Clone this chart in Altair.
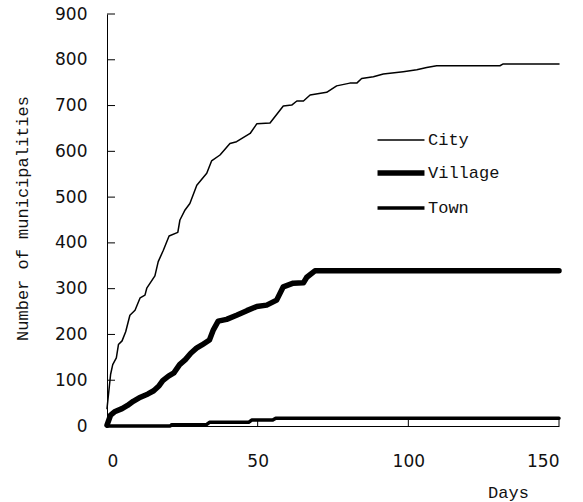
import altair as alt
import pandas as pd

# ---- data ----
series_names = ["City", "Village", "Town"]
stroke_widths = [1.5, 5.5, 3.5]

city_days = [0, 1.2, 1.9, 3.1, 3.8, 5, 6.2, 7.6, 9.3, 11, 12.6, 13.2, 15.9, 17, 18.7,
             20.6, 23.5, 24.2, 25.9, 27.5, 29.8, 33.1, 34.7, 37.5, 40.8, 43, 47.5,
             49.7, 54.1, 58.5, 61.3, 63, 65.2, 67.4, 72.9, 76.2, 80.6, 82.9, 84.5,
             88.4, 91.7, 98.3, 102.8, 106.1, 109.4, 130.4, 131.5, 150]
city_values = [38, 113, 134, 149, 178, 186, 206, 242, 253, 280, 286, 301, 328, 359, 384,
               415, 423, 450, 472, 486, 526, 552, 579, 592, 617, 621, 639,
               660, 662, 699, 701, 710, 710, 723, 729, 743, 749, 749, 759,
               763, 769, 774, 778, 783, 787, 787, 791, 791]

village_days = [0, 1.2, 2.5, 5, 6.8, 8.7, 11.1, 13.6, 15.5, 17.3, 18.5, 20.4, 22.2, 24.1,
                26, 27.8, 29.7, 31.5, 34, 35.3, 36.9, 39.7, 43, 46.4, 49.7, 53, 56.3,
                58.5, 61.8, 65.2, 66.3, 69, 150]
village_values = [2, 24, 31, 38, 45, 54, 63, 70, 77, 88, 99, 109, 116, 134,
                  145, 159, 170, 177, 188, 210, 229, 233, 242, 252, 261, 264, 275,
                  304, 312, 313, 325, 339, 339]

town_days = [0, 21, 21.5, 33, 34, 47, 48, 55, 56, 150]
town_values = [0, 0, 3, 3, 8, 8, 13, 13, 17, 17]

x_ticks = [0, 50, 100, 150]
y_ticks = [0, 100, 200, 300, 400, 500, 600, 700, 800, 900]
x_inner_ticks = [50, 100, 150]

rows = []
for name, ds, vs in [("City", city_days, city_values),
                     ("Village", village_days, village_values),
                     ("Town", town_days, town_values)]:
    for d, v in zip(ds, vs):
        rows.append({"series": name, "day": d, "value": v})
df = pd.DataFrame(rows)

W, H = 452, 412
x_scale = alt.Scale(domain=[0, 150], nice=False, zero=False)
y_scale = alt.Scale(domain=[0, 900], nice=False)

TITLE_FONT = "Liberation Mono"
LABEL_FONT = "DejaVu Sans"

x_axis = alt.Axis(values=x_ticks, title="Days", ticks=False, labelPadding=27,
                  labelFont=LABEL_FONT, labelFontSize=17, labelColor="#111",
                  titleFont=TITLE_FONT, titleFontSize=17, titleFontWeight="normal",
                  titleColor="#111", titleX=401, titleY=66, titleBaseline="middle",
                  titleAlign="center", grid=False, domainColor="black")
y_axis = alt.Axis(values=y_ticks, title="Number of municipalities", ticks=False,
                  labelPadding=20, labelFont=LABEL_FONT, labelFontSize=17,
                  labelColor="#111", titleFont=TITLE_FONT, titleFontSize=17,
                  titleFontWeight="normal", titleColor="#111", titleAngle=270,
                  titleX=-85, titleY=204, titleBaseline="middle", titleAlign="center",
                  grid=False, domainColor="black")

y_tick_layer = alt.Chart(pd.DataFrame({"value": y_ticks})).mark_rule(
    color="black", strokeWidth=1
).encode(
    y=alt.Y("value:Q", scale=y_scale, axis=y_axis),
    x=alt.value(0), x2=alt.value(8),
)

x_tick_layer = alt.Chart(pd.DataFrame({"day": x_inner_ticks})).mark_rule(
    color="black", strokeWidth=1
).encode(
    x=alt.X("day:Q", scale=x_scale, axis=x_axis),
    y=alt.value(H), y2=alt.value(H - 7),
)

lines = alt.Chart(df).mark_line(
    color="black", strokeCap="round", strokeJoin="round"
).encode(
    x=alt.X("day:Q", scale=x_scale, axis=x_axis),
    y=alt.Y("value:Q", scale=y_scale, axis=y_axis),
    strokeWidth=alt.StrokeWidth(
        "series:N",
        scale=alt.Scale(type="ordinal", domain=series_names, range=stroke_widths),
        legend=alt.Legend(
            title=None, orient="none", legendX=283, legendY=117,
            symbolType="M-3,0H3", symbolSize=245, symbolStrokeColor="black",
            symbolFillColor="transparent",
            labelFont=TITLE_FONT, labelFontSize=17, labelColor="#111",
            labelOffset=16, rowPadding=14, padding=0,
        ),
    ),
)

chart = alt.layer(y_tick_layer, x_tick_layer, lines).properties(
    width=W, height=H,
    autosize=alt.AutoSizeParams(type="none"),
    padding={"left": 107, "top": 14, "right": 24, "bottom": 76},
    background="white",
).configure_view(stroke=None)

chart.save("out.html", embed_options={"renderer": "svg", "actions": False})
